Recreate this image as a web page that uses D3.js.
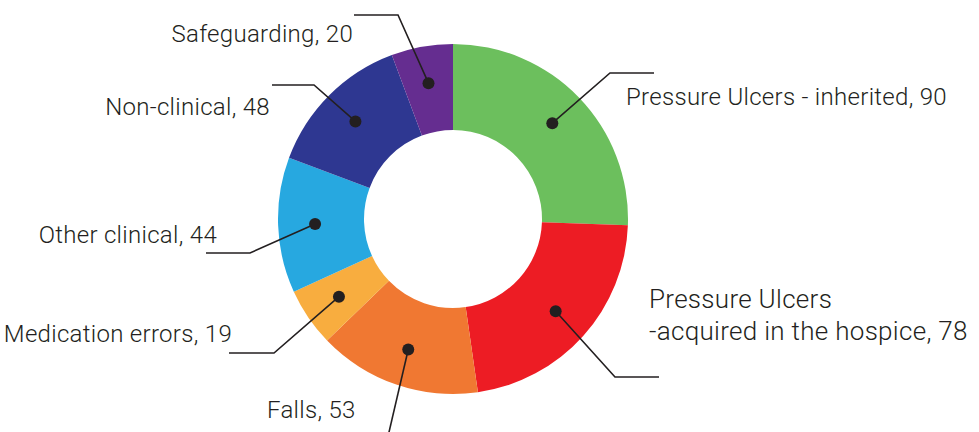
<!DOCTYPE html>
<html>
<head>
<meta charset="utf-8">
<script src="https://cdn.jsdelivr.net/npm/d3@7"></script>
<style>
  html, body { margin: 0; padding: 0; background: #fff; }
  svg { display: block; }
  text { font-family: Roboto, "Open Sans", sans-serif; font-weight: 300; fill: #231f20; }
</style>
</head>
<body>
<svg id="chart" width="979" height="432"></svg>
<script>
// Incident categories, clockwise from 12 o'clock
const categories = [
  "Pressure Ulcers - inherited",
  "Pressure Ulcers -acquired in the hospice",
  "Falls",
  "Medication errors",
  "Other clinical",
  "Non-clinical",
  "Safeguarding"
];
const values = [90, 78, 53, 19, 44, 48, 20];
const colors = ["#6cbf5d", "#ed1c24", "#f07832", "#f8ad3f", "#27a8e0", "#2e3791", "#652d90"];

// Label text lines (the hospice label wraps onto two lines)
const labelLines = [
  ["Pressure Ulcers - inherited, 90"],
  ["Pressure Ulcers", "-acquired in the hospice, 78"],
  ["Falls, 53"],
  ["Medication errors, 19"],
  ["Other clinical, 44"],
  ["Non-clinical, 48"],
  ["Safeguarding, 20"]
];

// Callout layout: elbow point, end of the horizontal run, label anchor, type size
const callouts = [
  { elbow: [610, 73],  end: [654, 73],  text: [626, 105], anchor: "start", size: 24 },
  { elbow: [615, 377], end: [659, 377], text: [649, 308], anchor: "start", size: 26 },
  { elbow: [386, 445], end: [386, 445], text: [267, 418], anchor: "start", size: 24 },
  { elbow: [274, 353], end: [229, 353], text: [232, 342], anchor: "end",   size: 24 },
  { elbow: [250, 253], end: [206, 253], text: [217, 243], anchor: "end",   size: 24 },
  { elbow: [314, 85],  end: [272, 85],  text: [270, 115], anchor: "end",   size: 24 },
  { elbow: [398, 15],  end: [354, 15],  text: [353, 42],  anchor: "end",   size: 24 }
];

const cx = 453, cy = 219, outerR = 175, innerR = 89, dotR = 138;
const svg = d3.select("#chart");
const g = svg.append("g").attr("transform", `translate(${cx},${cy})`);

const pie = d3.pie().sort(null).value(d => d)(values);
const arc = d3.arc().innerRadius(innerR).outerRadius(outerR);
const dotArc = d3.arc().innerRadius(dotR).outerRadius(dotR);

g.selectAll("path.slice")
  .data(pie)
  .join("path")
  .attr("class", "slice")
  .attr("d", arc)
  .attr("fill", (d, i) => colors[i]);

// Leader lines from each slice's dot to its label
const line = d3.line();
pie.forEach((d, i) => {
  const [dx, dy] = dotArc.centroid(d);
  const p0 = [cx + dx, cy + dy];
  const c = callouts[i];
  svg.append("path")
    .attr("d", line([p0, c.elbow, c.end]))
    .attr("fill", "none")
    .attr("stroke", "#231f20")
    .attr("stroke-width", 1.6);
  svg.append("circle")
    .attr("cx", p0[0]).attr("cy", p0[1]).attr("r", 6)
    .attr("fill", "#231f20");
  const t = svg.append("text")
    .attr("x", c.text[0]).attr("y", c.text[1])
    .attr("text-anchor", c.anchor)
    .attr("font-size", c.size)
    .attr("letter-spacing", 0.3);
  labelLines[i].forEach((s, k) => {
    t.append("tspan").attr("x", c.text[0]).attr("dy", k === 0 ? 0 : 32).text(s);
  });
});
</script>
</body>
</html>
